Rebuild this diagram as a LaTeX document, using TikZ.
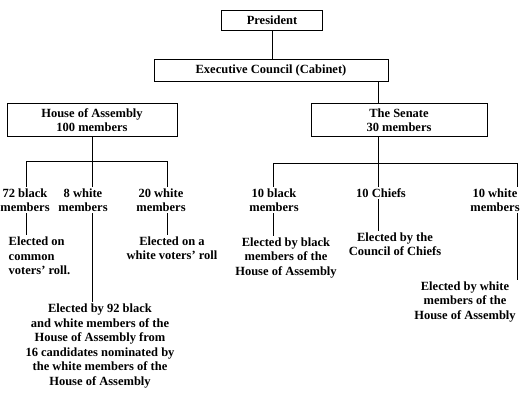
\documentclass[tikz,border=0pt]{standalone}
\usepackage{fontspec}
\setmainfont{Liberation Serif}
\usetikzlibrary{positioning,calc}
\tikzset{
  orgbox/.style={draw, line width=0.9pt, minimum height=20pt, inner sep=2pt,
                 align=center, font=\bfseries\fontsize{12.5}{14}\selectfont},
  orglbl/.style={align=center, inner sep=1.5pt,
                 font=\bfseries\fontsize{12.5}{14.5}\selectfont},
  link/.style={line width=0.9pt}
}

\begin{document}
\begin{tikzpicture}[x=1pt,y=1pt]
  \useasboundingbox (0,0) rectangle (520,-393);
  % boxes
  \node[orgbox, minimum width=101pt] (pres) at (272,-20) {President};
  \node[orgbox, minimum width=234pt, minimum height=22pt] (exec) at (271,-70) {Executive Council (Cabinet)};
  \node[orgbox, minimum width=170pt, minimum height=33pt] (house) at (92,-120) {House of Assembly\\100 members};
  \node[orgbox, minimum width=176pt, minimum height=33pt] (senate) at (399,-120) {The Senate\\30 members};
  % junctions
  \coordinate (hj) at (92,-161);
  \coordinate (hl) at (26,-161);
  \coordinate (hr) at (167,-161);
  \coordinate (sj) at (378,-163);
  \coordinate (sl) at (273,-163);
  \coordinate (sr) at (517,-163);
  % House of Assembly members
  \node[orglbl] (b72) at (25,-200) {72 black\\members};
  \node[orglbl] (w8) at (83,-200) {8 white\\members};
  \node[orglbl] (w20) at (161,-200) {20 white\\members};
  \node[orglbl, align=left, anchor=west] (e72) at (7,-256) {Elected on\\common\\voters' roll.};
  \node[orglbl] (e20) at (172,-248) {Elected on a\\white voters' roll};
  \node[orglbl, font=\bfseries\fontsize{12.5}{14.6}\selectfont] (e8) at (100,-346)
    {Elected by 92 black\\and white members of the\\House of Assembly from\\16 candidates nominated by\\the white members of the\\House of Assembly};
  % Senate members
  \node[orglbl] (b10) at (274,-200) {10 black\\members};
  \node[orglbl] (chf) at (381,-193) {10 Chiefs};
  \node[orglbl] (w10) at (495,-200) {10 white\\members};
  \node[orglbl] (e10) at (286,-258) {Elected by black\\members of the\\House of Assembly};
  \node[orglbl] (ec) at (395,-244) {Elected by the\\Council of Chiefs};
  \node[orglbl] (ew) at (465,-302) {Elected by white\\members of the\\House of Assembly};
  % connectors
  \draw[link] (pres.south) -- (pres.south |- exec.north);
  \draw[link] (exec.south -| sj) -- (senate.north -| sj);
  \draw[link] (house.south -| hj) -- (hj |- w8.north);
  \draw[link] (hl |- b72.north) -- (hl) -- (hr) -- (hr |- w20.north);
  \draw[link] (hl |- b72.south) -- (hl |- e72.north);
  \draw[link] (hj |- w8.south) -- (hj |- e8.north);
  \draw[link] (hr |- w20.south) -- (hr |- e20.north);
  \draw[link] (senate.south -| sj) -- (sj |- chf.north);
  \draw[link] (sl |- b10.north) -- (sl) -- (sr) -- (sr |- w10.north);
  \draw[link] (sl |- b10.south) -- (sl |- e10.north);
  \draw[link] (sj |- chf.south) -- (sj |- ec.north);
  \draw[link] (sr |- w10.south) -- (sr |- ew.north);
\end{tikzpicture}
\end{document}
